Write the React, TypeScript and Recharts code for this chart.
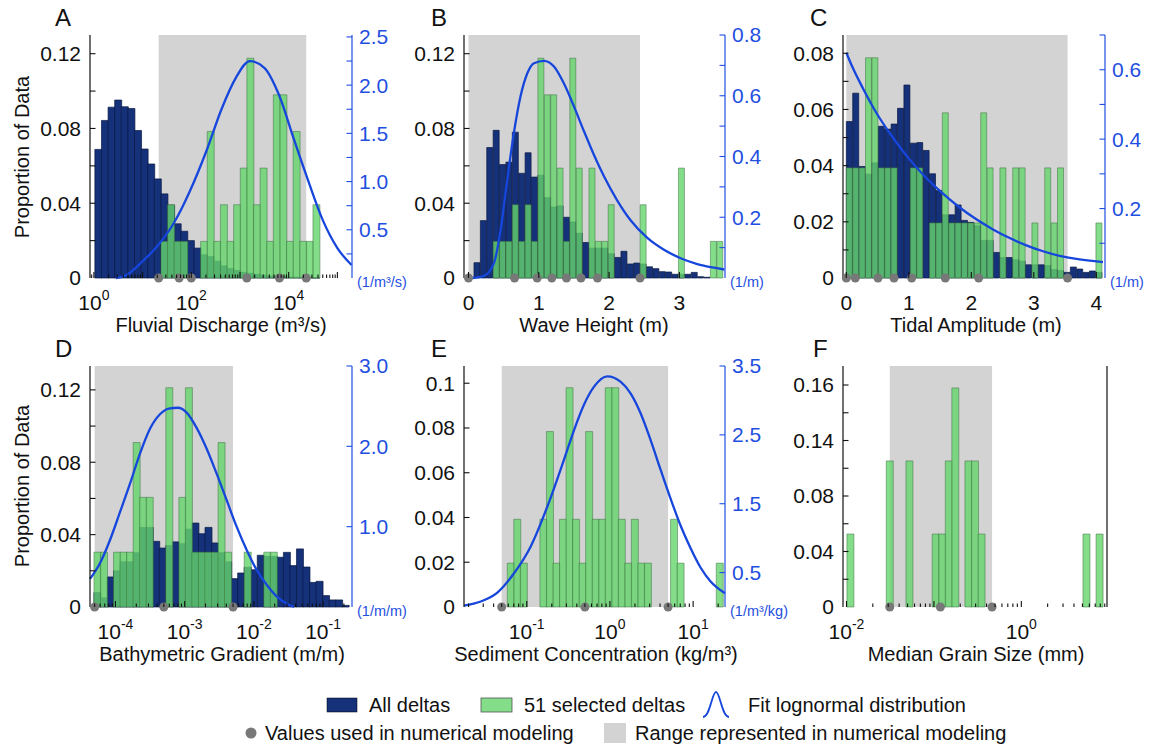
import React from 'react';
import { ComposedChart, Bar, Line, Scatter, XAxis, YAxis, ReferenceArea } from 'recharts';

const FONT = '"Liberation Sans", Arial, Helvetica, sans-serif';
const INK = '#111111';
const NAVY = '#15317a';
const NAVY_EDGE = '#0b1a44';
const GREEN = '#64d46b';
const GREEN_EDGE = '#3c6a40';
const RANGE_GREY = '#d3d3d3';
const FIT_BLUE = '#1646dc';
const AXIS_BLUE = '#1f4fe0';
const DOT_GREY = '#787878';

// ---------------- A: fluvial discharge (x = log10 m3/s) ----------------
const dischargeBinStart = 0.02;
const dischargeBinWidth = 0.1357;
const dischargeAll = [0.0688, 0.0843, 0.0914, 0.0952, 0.0916, 0.0907, 0.0789, 0.069, 0.061, 0.053, 0.045, 0.039, 0.029, 0.025, 0.02, 0.016, 0.0124, 0.0115, 0.009, 0.0065, 0.005, 0.004, 0.003, 0.0025, 0.002, 0.0015, 0.001, 0.001, 0.0008, 0.0005, 0.0004, 0.0003, 0.0002, 0.0001];
const dischargeSelected = [0, 0, 0, 0, 0, 0, 0, 0, 0, 0, 0.0196, 0.0392, 0.0196, 0.0196, 0, 0, 0.0196, 0.0784, 0.0196, 0.0392, 0.0196, 0.0392, 0.0588, 0.1176, 0.0392, 0.0588, 0.0196, 0.098, 0.098, 0.0196, 0.0784, 0.0196, 0.0196, 0.0392];
const dischargeFitLog = [0.45, 0.7, 0.95, 1.3, 1.63, 1.97, 2.32, 2.62, 2.92, 3.2, 3.5, 3.8, 4.1, 4.4, 4.7, 5.0, 5.29];
const dischargeFitDensity = [0, 0.04, 0.15, 0.33, 0.56, 0.9, 1.33, 1.75, 2.08, 2.25, 2.18, 1.9, 1.45, 1.01, 0.6, 0.31, 0.135];
const dischargeModelLog = [1.33, 1.75, 2.0, 3.14, 3.81, 4.36];
const dischargeRangeLog: [number, number] = [1.33, 4.36];

// ---------------- B: wave height (m) ----------------
const waveBinStart = 0.078;
const waveBinWidth = 0.0909;
const waveAll = [0.0082, 0.0307, 0.0698, 0.079, 0.0607, 0.062, 0.078, 0.056, 0.067, 0.054, 0.055, 0.043, 0.038, 0.0386, 0.0325, 0.03, 0.024, 0.019, 0.016, 0.016, 0.016, 0.013, 0.011, 0.0143, 0.0075, 0.008, 0.0075, 0.006, 0.005, 0.0034, 0.0032, 0.002, 0.002, 0.002, 0.003, 0.0007, 0.0004, 0, 0];
const waveSelected = [0, 0, 0, 0.0196, 0.0196, 0.0196, 0.0392, 0.0196, 0.0392, 0.0196, 0.1176, 0.098, 0.098, 0.0588, 0.0196, 0.1176, 0.0588, 0, 0.0588, 0.0196, 0.0196, 0.0392, 0, 0, 0, 0, 0.0392, 0, 0, 0, 0, 0, 0.0588, 0, 0, 0, 0, 0.0196, 0.0196];
const waveFitH = [0.054, 0.22, 0.363, 0.458, 0.552, 0.647, 0.742, 0.837, 0.932, 1.074, 1.216, 1.358, 1.5, 1.643, 1.785, 1.927, 2.117, 2.306, 2.544, 2.781, 3.018, 3.255, 3.492, 3.64];
const waveFitDensity = [0, 0.007, 0.05, 0.16, 0.325, 0.48, 0.6, 0.674, 0.707, 0.715, 0.696, 0.64, 0.565, 0.483, 0.405, 0.335, 0.255, 0.19, 0.132, 0.093, 0.065, 0.046, 0.034, 0.028];
const waveModel = [0, 0.655, 0.977, 1.185, 1.394, 1.6, 1.835, 2.44];
const waveRange: [number, number] = [0, 2.44];

// ---------------- C: tidal amplitude (m) ----------------
const tideBinStart = 0;
const tideBinWidth = 0.1024;
const tideAll = [0.0557, 0.0658, 0.0397, 0.037, 0.041, 0.054, 0.053, 0.0548, 0.0604, 0.0687, 0.048, 0.0482, 0.0454, 0.0371, 0.0312, 0.0225, 0.0225, 0.026, 0.0205, 0.0198, 0.0186, 0.0134, 0.0134, 0.0091, 0.0073, 0.0073, 0.0065, 0.006, 0.0047, 0.0047, 0.0047, 0.0044, 0.003, 0.0027, 0.002, 0.0039, 0.0032, 0.002, 0.0025, 0.002];
const tideSelected = [0.0392, 0.0392, 0.0392, 0.0784, 0.0784, 0.0392, 0.0392, 0.0392, 0, 0, 0.0392, 0.0392, 0, 0.0196, 0.0196, 0.0588, 0.0196, 0.0196, 0.0196, 0.0196, 0.0196, 0.0588, 0.0392, 0, 0.0392, 0, 0.0392, 0.0392, 0, 0.0196, 0, 0.0392, 0.0196, 0.0392, 0, 0, 0, 0, 0, 0.0196];
const tideFitA = [0, 0.107, 0.267, 0.48, 0.747, 1.014, 1.28, 1.547, 1.814, 2.08, 2.347, 2.614, 2.88, 3.147, 3.414, 3.68, 4.107];
const tideFitDensity = [0.649, 0.604, 0.546, 0.476, 0.404, 0.341, 0.288, 0.243, 0.203, 0.169, 0.14, 0.115, 0.094, 0.077, 0.064, 0.055, 0.046];
const tideModel = [0, 0.144, 0.507, 0.763, 1.046, 1.584, 2.118, 3.54];
const tideRange: [number, number] = [0, 3.54];

// ---------------- D: bathymetric gradient (x = log10 m/m) ----------------
const gradientBinStart = -4.311;
const gradientBinWidth = 0.0944;
const gradientAll = [0.008, 0.005, 0.0166, 0.02, 0.025, 0.025, 0.03, 0.044, 0.044, 0.0363, 0.0326, 0.034, 0.036, 0.035, 0.043, 0.0464, 0.0405, 0.044, 0.0354, 0.03, 0.025, 0.0157, 0.0188, 0.022, 0.0206, 0.0286, 0.028, 0.028, 0.0275, 0.0302, 0.0229, 0.0321, 0.0221, 0.0136, 0.0142, 0.0063, 0.0039, 0.0039, 0.0009];
const gradientSelected = [0.0303, 0.0303, 0, 0.0303, 0.0303, 0.0303, 0.0909, 0.0606, 0.0606, 0, 0, 0.1212, 0, 0.0606, 0.1212, 0.0303, 0.0303, 0.0303, 0.0303, 0.0909, 0.0303, 0, 0, 0.0303, 0, 0, 0.0303, 0.0303, 0, 0, 0, 0, 0, 0, 0, 0, 0, 0, 0];
const gradientFitLog = [-4.368, -4.224, -4.079, -3.935, -3.79, -3.646, -3.501, -3.357, -3.23, -3.1, -2.971, -2.827, -2.682, -2.538, -2.393, -2.249, -2.104, -1.96, -1.815, -1.671, -1.526, -1.42];
const gradientFitDensity = [0.35, 0.545, 0.834, 1.18, 1.535, 1.91, 2.22, 2.40, 2.47, 2.48, 2.42, 2.23, 1.97, 1.66, 1.33, 1.0, 0.71, 0.462, 0.277, 0.132, 0.041, 0];
const gradientModelLog = [-4.301, -3.301, -2.301];
const gradientRangeLog: [number, number] = [-4.301, -2.301];

// ---------------- E: sediment concentration (x = log10 kg/m3) ----------------
const sedimentBinStart = -1.234;
const sedimentBinWidth = 0.0785;
const sedimentSelected = [0.0196, 0.0392, 0.0196, 0, 0, 0.0392, 0.0784, 0.0196, 0.0392, 0.098, 0.0392, 0.0196, 0.0784, 0.0392, 0.0392, 0.098, 0.098, 0.0392, 0.0196, 0.0392, 0.0196, 0.0196, 0, 0, 0, 0.0392, 0.0196, 0, 0, 0, 0, 0, 0.0196];
const sedimentFitLog = [-1.754, -1.553, -1.353, -1.153, -0.952, -0.752, -0.552, -0.431, -0.311, -0.191, -0.031, 0.13, 0.25, 0.37, 0.49, 0.61, 0.73, 0.85, 0.971, 1.091, 1.21, 1.383];
const sedimentFitDensity = [0.02, 0.08, 0.21, 0.49, 0.88, 1.46, 2.14, 2.57, 2.94, 3.2, 3.35, 3.27, 3.1, 2.81, 2.42, 1.99, 1.57, 1.18, 0.85, 0.57, 0.37, 0.2];
const sedimentModelLog = [-1.301, -0.301, 0.699];
const sedimentRangeLog: [number, number] = [-1.301, 0.699];

// ---------------- F: median grain size (x = log10 mm) ----------------
const grainBinStart = -1.995;
const grainBinWidth = 0.075;
const grainSelected = [0.0526, 0, 0, 0, 0, 0, 0.1053, 0, 0, 0.1053, 0, 0, 0, 0.0526, 0.0526, 0.1053, 0.1579, 0, 0.1053, 0.1053, 0.0526, 0, 0, 0, 0, 0, 0, 0, 0, 0, 0, 0, 0, 0, 0, 0, 0.0526, 0, 0.0526];
const grainModelLog = [-1.505, -0.926, -0.335];
const grainRangeLog: [number, number] = [-1.505, -0.335];

// ---------------- axis tick definitions ----------------
const prop012 = [0, 0.04, 0.08, 0.12];
const prop012Labels = ['0', '0.04', '0.08', '0.12'];
const prop012Minor = [0.02, 0.06, 0.1];
const propTide = [0, 0.02, 0.04, 0.06, 0.08];
const propTideLabels = ['0', '0.02', '0.04', '0.06', '0.08'];
const propTideMinor = [0.01, 0.03, 0.05, 0.07];
const propSed = [0, 0.02, 0.04, 0.06, 0.08, 0.1];
const propSedLabels = ['0', '0.02', '0.04', '0.06', '0.08', '0.1'];
const propGrain = [0, 0.04, 0.08, 0.12, 0.16];
const propGrainLabels = ['0', '0.04', '0.08', '0.14', '0.16'];
const propGrainMinor = [0.02, 0.06, 0.1, 0.14];

type Cfg = {
  key: string;
  left: number; top: number; w: number; h: number;
  xDomain: [number, number];
  log: boolean;
  xMajor: number[];
  xLabeled: number[];
  binStart: number; binWidth: number;
  all?: number[];
  sel: number[];
  yDomain: [number, number];
  yMajor: number[]; yLabels: string[]; yMinor: number[];
  rDomain?: [number, number];
  rMajor?: number[]; rLabels?: string[]; rMinor?: number[];
  rUnit?: string;
  fitX?: number[]; fitY?: number[];
  range: [number, number];
  model: number[];
};

const panels: Cfg[] = [
  {
    key: 'A', left: 90, top: 35, w: 262, h: 243, xDomain: [-0.08, 5.3], log: true,
    xMajor: [0, 1, 2, 3, 4, 5], xLabeled: [0, 2, 4],
    binStart: dischargeBinStart, binWidth: dischargeBinWidth, all: dischargeAll, sel: dischargeSelected,
    yDomain: [0, 0.13], yMajor: prop012, yLabels: prop012Labels, yMinor: prop012Minor,
    rDomain: [0, 2.52], rMajor: [0.5, 1, 1.5, 2, 2.5], rLabels: ['0.5', '1.0', '1.5', '2.0', '2.5'], rMinor: [0.25, 0.75, 1.25, 1.75, 2.25], rUnit: '(1/m³/s)',
    fitX: dischargeFitLog, fitY: dischargeFitDensity, range: dischargeRangeLog, model: dischargeModelLog,
  },
  {
    key: 'B', left: 464, top: 35, w: 261, h: 243, xDomain: [-0.064, 3.649], log: false,
    xMajor: [0, 1, 2, 3], xLabeled: [0, 1, 2, 3],
    binStart: waveBinStart, binWidth: waveBinWidth, all: waveAll, sel: waveSelected,
    yDomain: [0, 0.13], yMajor: prop012, yLabels: prop012Labels, yMinor: prop012Minor,
    rDomain: [0, 0.8], rMajor: [0.2, 0.4, 0.6, 0.8], rLabels: ['0.2', '0.4', '0.6', '0.8'], rMinor: [0.1, 0.3, 0.5, 0.7], rUnit: '(1/m)',
    fitX: waveFitH, fitY: waveFitDensity, range: waveRange, model: waveModel,
  },
  {
    key: 'C', left: 843, top: 35, w: 262, h: 243, xDomain: [-0.053, 4.139], log: false,
    xMajor: [0, 1, 2, 3, 4], xLabeled: [0, 1, 2, 3, 4],
    binStart: tideBinStart, binWidth: tideBinWidth, all: tideAll, sel: tideSelected,
    yDomain: [0, 0.0865], yMajor: propTide, yLabels: propTideLabels, yMinor: propTideMinor,
    rDomain: [0, 0.7], rMajor: [0.2, 0.4, 0.6], rLabels: ['0.2', '0.4', '0.6'], rMinor: [0.1, 0.3, 0.5, 0.7], rUnit: '(1/m)',
    fitX: tideFitA, fitY: tideFitDensity, range: tideRange, model: tideModel,
  },
  {
    key: 'D', left: 90, top: 366, w: 262, h: 241, xDomain: [-4.368, -0.582], log: true,
    xMajor: [-4, -3, -2, -1], xLabeled: [-4, -3, -2, -1],
    binStart: gradientBinStart, binWidth: gradientBinWidth, all: gradientAll, sel: gradientSelected,
    yDomain: [0, 0.1332], yMajor: prop012, yLabels: prop012Labels, yMinor: prop012Minor,
    rDomain: [0, 3.0], rMajor: [1, 2, 3], rLabels: ['1.0', '2.0', '3.0'], rMinor: [], rUnit: '(1/m/m)',
    fitX: gradientFitLog, fitY: gradientFitDensity, range: gradientRangeLog, model: gradientModelLog,
  },
  {
    key: 'E', left: 464, top: 366, w: 261, h: 241, xDomain: [-1.754, 1.383], log: true,
    xMajor: [-1, 0, 1], xLabeled: [-1, 0, 1],
    binStart: sedimentBinStart, binWidth: sedimentBinWidth, sel: sedimentSelected,
    yDomain: [0, 0.1077], yMajor: propSed, yLabels: propSedLabels, yMinor: [],
    rDomain: [0, 3.5], rMajor: [0.5, 1.5, 2.5, 3.5], rLabels: ['0.5', '1.5', '2.5', '3.5'], rMinor: [], rUnit: '(1/m³/kg)',
    fitX: sedimentFitLog, fitY: sedimentFitDensity, range: sedimentRangeLog, model: sedimentModelLog,
  },
  {
    key: 'F', left: 843, top: 366, w: 264, h: 241, xDomain: [-2.04, 0.98], log: true,
    xMajor: [-2, -1, 0], xLabeled: [-2, 0],
    binStart: grainBinStart, binWidth: grainBinWidth, sel: grainSelected,
    yDomain: [0, 0.1737], yMajor: propGrain, yLabels: propGrainLabels, yMinor: propGrainMinor,
    range: grainRangeLog, model: grainModelLog,
  },
];

const panelLetters = [
  { t: 'A', x: 55, y: 26 }, { t: 'B', x: 431, y: 26 }, { t: 'C', x: 810, y: 26 },
  { t: 'D', x: 55, y: 357 }, { t: 'E', x: 431, y: 357 }, { t: 'F', x: 813, y: 357 },
];
const xTitles = [
  { t: 'Fluvial Discharge (m³/s)', x: 221, y: 332 },
  { t: 'Wave Height (m)', x: 594, y: 332 },
  { t: 'Tidal Amplitude (m)', x: 976, y: 332 },
  { t: 'Bathymetric Gradient (m/m)', x: 222, y: 661 },
  { t: 'Sediment Concentration (kg/m³)', x: 596, y: 661 },
  { t: 'Median Grain Size (mm)', x: 976, y: 661 },
];
const yTitles = [{ t: 'Proportion of Data', x: 29, y: 157 }, { t: 'Proportion of Data', x: 29, y: 486 }];

const LW = 80, RW = 90, MT = 22, XH = 50;
const near = (a: number, b: number) => Math.abs(a - b) < 1e-6;

function logMinor(d: [number, number]) {
  const out: number[] = [];
  for (let n = Math.floor(d[0]); n <= Math.ceil(d[1]); n++) {
    for (let k = 2; k <= 9; k++) {
      const v = n + Math.log10(k);
      if (v > d[0] && v < d[1]) out.push(v);
    }
  }
  return out;
}

function XTick(props: any) {
  const { x, payload, c } = props;
  const v = payload.value as number;
  const cx = typeof payload.coordinate === 'number' ? payload.coordinate : x;
  const axisY = MT + c.h;
  const major = c.xMajor.some((m: number) => near(m, v));
  const labeled = c.xLabeled.some((m: number) => near(m, v));
  const len = major ? 6 : 3.5;
  return (
    <g>
      <line x1={cx} x2={cx} y1={axisY} y2={axisY - len} stroke={INK} strokeWidth={1.1} />
      {labeled && (c.log ? (
        <text x={cx} y={axisY + 32} textAnchor="middle" fontFamily={FONT} fontSize={21} fill={INK}>
          10<tspan dy={-10} fontSize={14}>{String(Math.round(v))}</tspan>
        </text>
      ) : (
        <text x={cx} y={axisY + 32} textAnchor="middle" fontFamily={FONT} fontSize={21} fill={INK}>{String(v)}</text>
      ))}
    </g>
  );
}

function YTickLeft(props: any) {
  const { x, y, payload, c } = props;
  const v = payload.value as number;
  const axisX = x + 9;
  const idx = c.yMajor.findIndex((m: number) => near(m, v));
  return (
    <g>
      {v > 0 && <line x1={axisX} x2={axisX + 5.5} y1={y} y2={y} stroke={INK} strokeWidth={1.1} />}
      {idx >= 0 && (
        <text x={x} y={y} dy={7.4} textAnchor="end" fontFamily={FONT} fontSize={21} fill={INK}>{c.yLabels[idx]}</text>
      )}
    </g>
  );
}

function YTickRight(props: any) {
  const { x, y, payload, c } = props;
  const v = payload.value as number;
  const axisX = x - 7;
  const idx = (c.rMajor || []).findIndex((m: number) => near(m, v));
  if (near(v, 0)) {
    return (
      <text x={axisX + 5} y={y + 9} textAnchor="start" fontFamily={FONT} fontSize={14.5} fill={AXIS_BLUE}>{c.rUnit}</text>
    );
  }
  return (
    <g>
      <line x1={axisX} x2={axisX - 5.5} y1={y} y2={y} stroke={AXIS_BLUE} strokeWidth={1.1} />
      {idx >= 0 && (
        <text x={x} y={y} dy={7.4} textAnchor="start" fontFamily={FONT} fontSize={21} fill={AXIS_BLUE}>{c.rLabels[idx]}</text>
      )}
    </g>
  );
}

function Panel({ c }: { c: Cfg }) {
  const data = c.sel.map((s, i) => ({
    x: c.binStart + c.binWidth * (i + 0.5),
    all: c.all && c.all[i] > 0 ? c.all[i] : null,
    sel: s > 0 ? s : null,
  }));
  const fit = c.fitX ? c.fitX.map((x, i) => ({ x, d: c.fitY![i] })) : [];
  const dots = c.model.map((x) => ({ x, p: 0 }));
  const xMinor = c.log ? logMinor(c.xDomain).filter((v) => !c.xMajor.some((m) => near(m, v))) : [];
  const xTicks = [...c.xMajor, ...xMinor]
    .filter((v) => v >= c.xDomain[0] - 1e-9 && v <= c.xDomain[1] + 1e-9)
    .sort((a, b) => a - b);
  const yTicks = [...c.yMajor, ...c.yMinor].sort((a, b) => a - b);
  const hasRight = !!c.rDomain;
  const rTicks = hasRight ? [0, ...(c.rMajor || []), ...(c.rMinor || [])].sort((a, b) => a - b) : [];
  return (
    <div style={{ position: 'absolute', left: c.left - LW, top: c.top - MT }}>
      <ComposedChart
        width={LW + c.w + RW}
        height={MT + c.h + XH}
        data={data}
        margin={{ top: MT, right: 0, bottom: 0, left: 0 }}
        barCategoryGap={0}
        barGap={0}
      >
        <XAxis xAxisId="binsAll" type="number" dataKey="x" domain={c.xDomain} hide />
        <XAxis xAxisId="binsSel" type="number" dataKey="x" domain={c.xDomain} hide />
        <XAxis
          xAxisId="main" type="number" dataKey="x" domain={c.xDomain} ticks={xTicks} interval={0}
          height={XH} tickSize={0} tickMargin={0} tickLine={false}
          axisLine={{ stroke: INK, strokeWidth: 1.2 }}
          tick={(p: any) => <XTick {...p} c={c} />}
        />
        <YAxis
          yAxisId="left" type="number" domain={c.yDomain} ticks={yTicks} interval={0} width={LW}
          tickSize={0} tickMargin={9} tickLine={false} axisLine={{ stroke: INK, strokeWidth: 1.2 }}
          tick={(p: any) => <YTickLeft {...p} c={c} />}
        />
        <YAxis
          yAxisId="right" orientation="right" type="number" domain={c.rDomain || [0, 1]} ticks={rTicks} interval={0}
          width={RW} tickSize={0} tickMargin={7} tickLine={false}
          axisLine={{ stroke: hasRight ? AXIS_BLUE : INK, strokeWidth: 1.2 }}
          tick={hasRight ? (p: any) => <YTickRight {...p} c={c} /> : false}
        />
        <ReferenceArea
          xAxisId="main" yAxisId="left" x1={c.range[0]} x2={c.range[1]} y1={0} y2={c.yDomain[1]}
          fill={RANGE_GREY} fillOpacity={1} stroke="none"
        />
        {c.all && (
          <Bar xAxisId="binsAll" yAxisId="left" dataKey="all" fill={NAVY} stroke={NAVY_EDGE} strokeWidth={0.7} isAnimationActive={false} />
        )}
        <Bar
          xAxisId="binsSel" yAxisId="left" dataKey="sel" fill={GREEN} fillOpacity={0.8}
          stroke={GREEN_EDGE} strokeOpacity={0.7} strokeWidth={0.7} isAnimationActive={false}
        />
        {c.fitX && (
          <Line
            xAxisId="main" yAxisId="right" data={fit} dataKey="d" type="monotone" stroke={FIT_BLUE}
            strokeWidth={2.3} dot={false} activeDot={false} isAnimationActive={false}
          />
        )}
        <Scatter
          xAxisId="main" yAxisId="left" data={dots} dataKey="p" isAnimationActive={false}
          shape={(p: any) => <circle cx={p.cx} cy={p.cy} r={4.5} fill={DOT_GREY} />}
        />
      </ComposedChart>
    </div>
  );
}

export default function App() {
  return (
    <div style={{ position: 'absolute', left: 0, top: 0, width: 1156, height: 748, background: '#ffffff', overflow: 'hidden' }}>
      {panels.map((c) => (
        <Panel key={c.key} c={c} />
      ))}
      <svg width={1156} height={748} style={{ position: 'absolute', left: 0, top: 0, pointerEvents: 'none' }}>
        {panelLetters.map((p) => (
          <text key={p.t} x={p.x} y={p.y} fontFamily={FONT} fontSize={24} fill={INK}>{p.t}</text>
        ))}
        {xTitles.map((p) => (
          <text key={p.t} x={p.x} y={p.y} textAnchor="middle" fontFamily={FONT} fontSize={20} fill={INK}>{p.t}</text>
        ))}
        {yTitles.map((p, i) => (
          <text key={i} x={p.x} y={p.y} textAnchor="middle" fontFamily={FONT} fontSize={20} fill={INK} transform={`rotate(-90 ${p.x} ${p.y})`}>{p.t}</text>
        ))}
        {/* legend row 1 */}
        <rect x={327} y={698} width={30} height={14} fill={NAVY} stroke="#000" strokeWidth={0.5} />
        <text x={369} y={712} fontFamily={FONT} fontSize={20} fill={INK}>All deltas</text>
        <rect x={481} y={698} width={31} height={14} fill={GREEN} fillOpacity={0.8} stroke="#555" strokeWidth={0.8} />
        <text x={524} y={712} fontFamily={FONT} fontSize={20} fill={INK}>51 selected deltas</text>
        <path d="M 703 717 C 710 717, 712 692, 716 692 C 720 692, 722 717, 729 717" fill="none" stroke={FIT_BLUE} strokeWidth={1.8} />
        <text x={748} y={712} fontFamily={FONT} fontSize={20} fill={INK}>Fit lognormal distribution</text>
        {/* legend row 2 */}
        <circle cx={251} cy={733} r={5.5} fill={DOT_GREY} />
        <text x={265} y={740} fontFamily={FONT} fontSize={20} fill={INK}>Values used in numerical modeling</text>
        <rect x={604} y={723} width={22} height={20} fill={RANGE_GREY} />
        <text x={635} y={740} fontFamily={FONT} fontSize={20} fill={INK}>Range represented in numerical modeling</text>
      </svg>
    </div>
  );
}
